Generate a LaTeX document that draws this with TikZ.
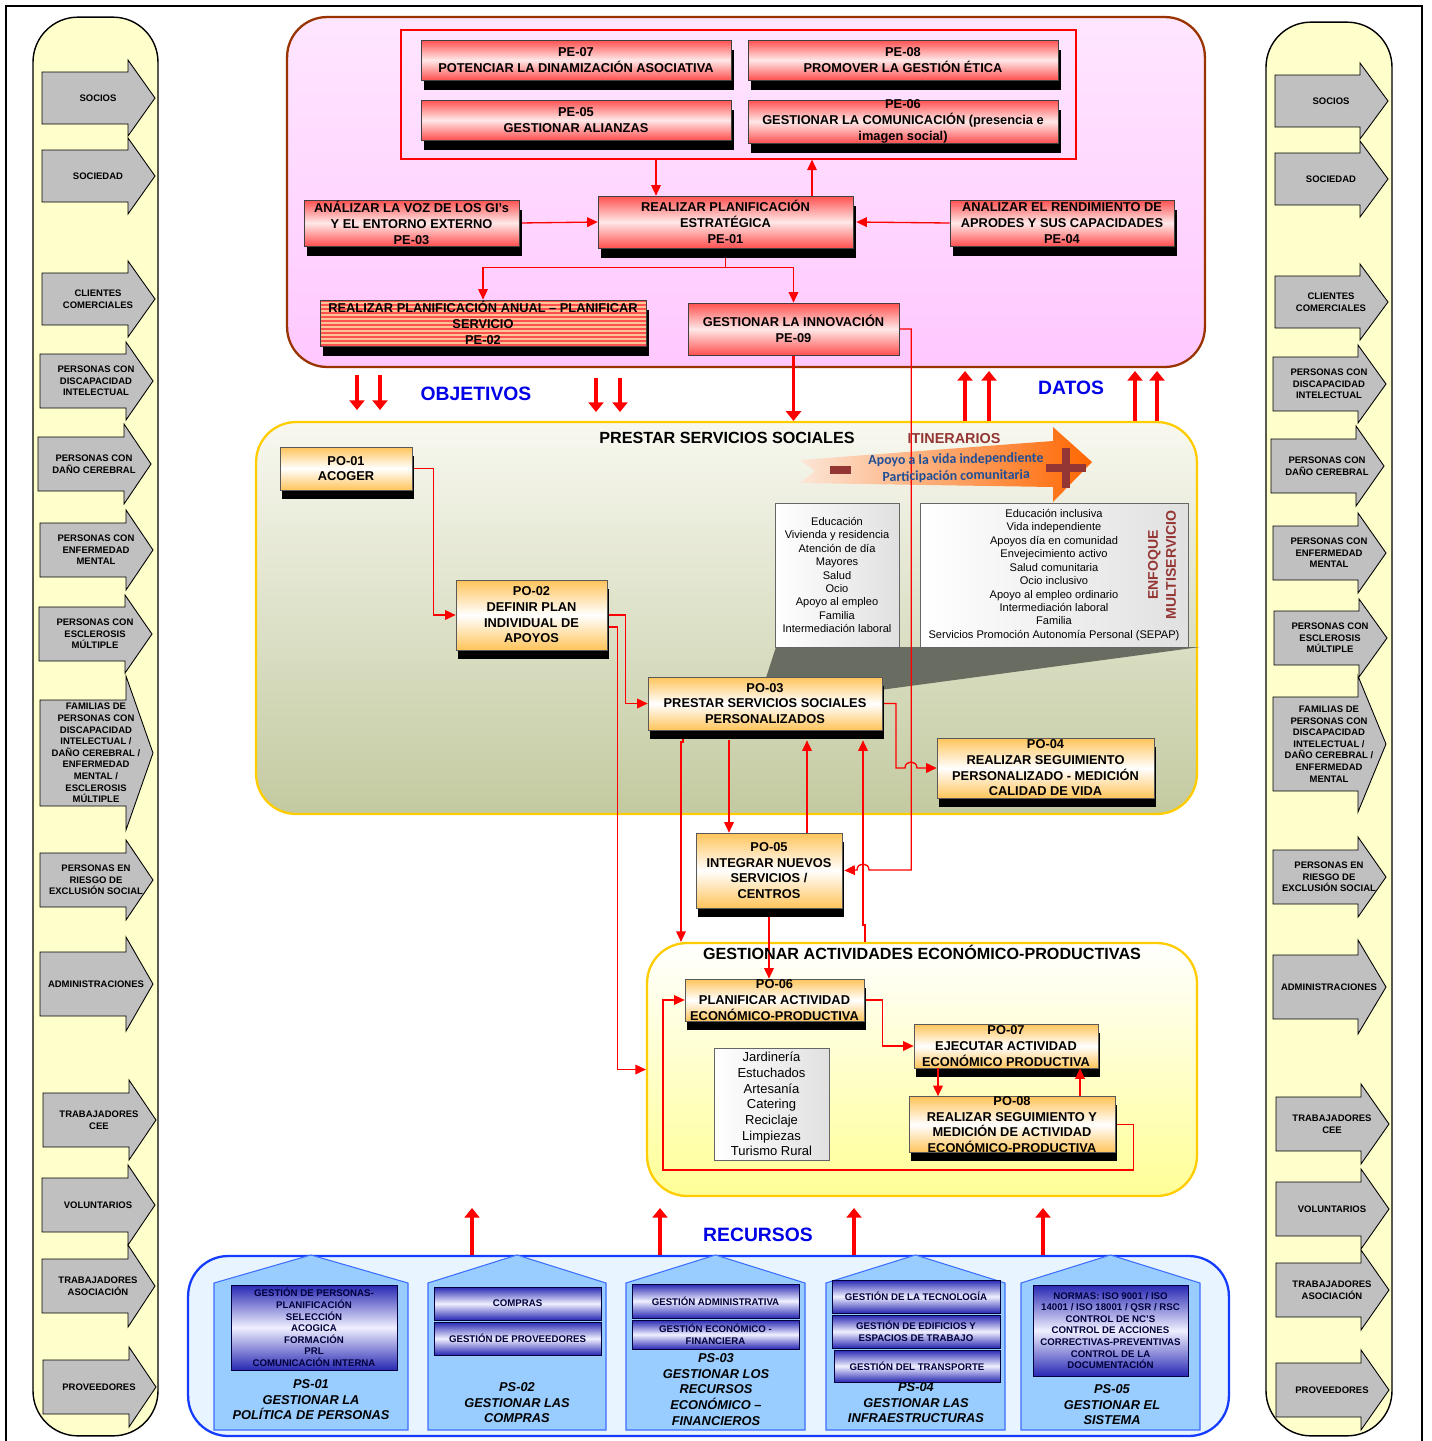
\documentclass[tikz,border=0pt]{standalone}
\usepackage{fontspec}
\setmainfont{Liberation Sans}
\newfontfamily\itinfont{Carlito}
\usepackage{xcolor}
\definecolor{pered}{RGB}{255, 80, 80}
\definecolor{pelight}{RGB}{255, 232, 232}
\definecolor{stripepeach}{RGB}{255, 196, 150}
\definecolor{poorange}{RGB}{255, 196, 90}
\definecolor{panelbrown}{RGB}{153, 51, 0}
\definecolor{pinktop}{RGB}{255, 230, 255}
\definecolor{pinkbottom}{RGB}{255, 200, 255}
\definecolor{gold}{RGB}{255, 204, 0}
\definecolor{olivetop}{RGB}{248, 248, 240}
\definecolor{olivebottom}{RGB}{195, 202, 160}
\definecolor{econbottom}{RGB}{255, 255, 150}
\definecolor{cream}{RGB}{255, 255, 204}
\definecolor{arrowgray}{RGB}{192, 192, 192}
\definecolor{labelblue}{RGB}{0, 0, 230}
\definecolor{supportblue}{RGB}{20, 60, 255}
\definecolor{supportfill}{RGB}{232, 244, 255}
\definecolor{housefill}{RGB}{153, 204, 255}
\definecolor{houseedge}{RGB}{60, 110, 255}
\definecolor{navy}{RGB}{40, 40, 180}
\definecolor{navytext}{RGB}{0, 0, 60}
\definecolor{itinred}{RGB}{148, 54, 52}
\definecolor{itinblue}{RGB}{31, 78, 150}
\definecolor{itinorange}{RGB}{255, 102, 0}
\definecolor{itinpeach}{RGB}{252, 230, 215}
\definecolor{darkshade}{RGB}{105, 108, 96}
\usepackage{tikz}
\usetikzlibrary{arrows.meta, positioning, calc, shadows}
\pgfdeclarelayer{back}
\pgfdeclarelayer{lines}
\pgfsetlayers{back,lines,main}

\tikzset{
    flow/.style={draw=red, line width=0.75pt, -{Triangle[length=6pt, width=5.5pt]}},
    bigflow/.style={draw=red, line width=1.8pt, -{Triangle[length=5.5pt, width=8.5pt]}},
    panel/.style={rounded corners=0.8cm, line width=1.3pt},
    boxfont/.style={inner sep=0pt, align=center, font=\fontsize{7.3}{8.9}\selectfont\bfseries},
    pebox/.style={boxfont, draw=black!75, top color=pered, bottom color=pered, middle color=pelight},
    peshadow/.style={general shadow={fill=black, shadow xshift=1.7pt, shadow yshift=-5.7pt}},
    pobox/.style={boxfont, draw=black!65, top color=poorange, bottom color=poorange, middle color=white,
        general shadow={fill=black, shadow xshift=1.1pt, shadow yshift=-5.1pt}},
    listbox/.style={draw=black!60, left color=white, right color=black!12, inner sep=0pt, align=center,
        font=\fontsize{6.3}{7.65}\selectfont},
    sidearrow/.style={draw=black, line width=0.5pt, fill=arrowgray},
    sidetext/.style={align=center, font=\fontsize{5.4}{6.6}\selectfont\bfseries},
    house/.style={draw=houseedge, fill=housefill, line width=0.6pt},
    supbox/.style={draw=navytext, top color=navy, bottom color=navy, middle color=white!94!blue, inner sep=0pt,
        align=center, text=navytext, font=\fontsize{5.5}{6.6}\selectfont\bfseries},
    suplabel/.style={align=center, font=\fontsize{7.3}{8.85}\selectfont\bfseries\itshape},
    flowlabel/.style={text=labelblue, font=\fontsize{11}{13}\selectfont\bfseries},
    paneltitle/.style={font=\fontsize{9.2}{11}\selectfont\bfseries}
}

\begin{document}
\begin{tikzpicture}[x=0.02cm, y=-0.02cm, >=Stealth]
    \useasboundingbox (0,0) rectangle (1431,1441);
    \draw[line width=1.1pt] (6,6) rectangle (1422,1460);

    \begin{pgfonlayer}{back}
        \node[panel, draw=black, fill=cream, rounded corners=0.9cm, line width=0.8pt, minimum width=2.5cm, minimum height=28.38cm] (grupoizq) at (95.5,726.5) {};
        \node[panel, draw=black, fill=cream, rounded corners=0.9cm, line width=0.8pt, minimum width=2.52cm, minimum height=28.28cm] (grupoder) at (1329,729) {};
        \node[panel, draw=panelbrown, top color=pinktop, bottom color=pinkbottom, minimum width=18.36cm, minimum height=7cm] (plan) at (746,192) {};
        \node[draw=red, line width=0.7pt, minimum width=13.5cm, minimum height=2.58cm] (pegroup) at (738.5,94.5) {};
        \node[panel, draw=gold, top color=olivetop, bottom color=olivebottom, minimum width=18.82cm, minimum height=7.84cm] (social) at (726.5,618) {};
        \node[panel, draw=gold, top color=white, bottom color=econbottom, minimum width=11cm, minimum height=5.06cm] (econ) at (922,1069.5) {};
        \node[panel, draw=supportblue, fill=supportfill, minimum width=20.82cm, minimum height=3.6cm] (soporte) at (708.5,1346) {};
        \fill[darkshade] (762,690) -- (776,647) -- (1200,647) -- (880,690) -- cycle;
        \shade[left color=itinpeach, right color=itinorange] (800,460) -- (1053,441) -- (1053,427) -- (1092,462) -- (1053,502) -- (1053,487) -- (800,483) -- (815,471) -- cycle;
        \fill[itinred] (830,466) rectangle (851,474);
        \fill[itinred] (1046,464) rectangle (1086,472);
        \fill[itinred] (1062,448) rectangle (1070,488);
    \end{pgfonlayer}

    \foreach \y/\b/\h/\d/\txt [count=\i] in {98/26/38/0/SOCIOS, 176/26/38/0/SOCIEDAD, 299/26/38/0/{CLIENTES\\COMERCIALES},
        381/27/39/-2/{PERSONAS CON\\DISCAPACIDAD\\INTELECTUAL}, 464/27/40/-4/{PERSONAS CON\\DAÑO CEREBRAL},
        550/27/40/-2/{PERSONAS CON\\ENFERMEDAD\\MENTAL}, 634/27/39/-3/{PERSONAS CON\\ESCLEROSIS\\MÚLTIPLE},
        753/53/77/-2/{FAMILIAS DE\\PERSONAS CON\\DISCAPACIDAD\\INTELECTUAL /\\DAÑO CEREBRAL /\\ENFERMEDAD\\MENTAL /\\ESCLEROSIS\\MÚLTIPLE},
        880/27/40/-2/{PERSONAS EN\\RIESGO DE\\EXCLUSIÓN SOCIAL}, 984/32/47/-2/ADMINISTRACIONES,
        1120/27/40/1/{TRABAJADORES\\CEE}, 1205/27/40/0/VOLUNTARIOS, 1286/27/41/0/{TRABAJADORES\\ASOCIACIÓN},
        1387/27/40/1/PROVEEDORES} {
        \filldraw[sidearrow] ({42+\d},{\y-\b}) -- ({128+\d},{\y-\b}) -- ({128+\d},{\y-\h}) -- ({155+\d},\y)
            -- ({128+\d},{\y+\h}) -- ({128+\d},{\y+\b}) -- ({42+\d},{\y+\b}) -- cycle;
        \node[sidetext] (izq\i) at ({98+\d},\y) {\txt};
    }
    \foreach \y/\b/\h/\d/\txt [count=\i] in {101/26/38/0/SOCIOS, 179/26/38/0/SOCIEDAD, 302/26/38/0/{CLIENTES\\COMERCIALES},
        384/27/39/-2/{PERSONAS CON\\DISCAPACIDAD\\INTELECTUAL}, 466/27/40/-4/{PERSONAS CON\\DAÑO CEREBRAL},
        553/27/40/-2/{PERSONAS CON\\ENFERMEDAD\\MENTAL}, 638/27/39/-1/{PERSONAS CON\\ESCLEROSIS\\MÚLTIPLE},
        744/47/68/-2/{FAMILIAS DE\\PERSONAS CON\\DISCAPACIDAD\\INTELECTUAL /\\DAÑO CEREBRAL /\\ENFERMEDAD\\MENTAL},
        877/27/40/-2/{PERSONAS EN\\RIESGO DE\\EXCLUSIÓN SOCIAL}, 987/32/47/-2/ADMINISTRACIONES,
        1124/27/40/1/{TRABAJADORES\\CEE}, 1209/27/40/1/VOLUNTARIOS, 1290/27/40/1/{TRABAJADORES\\ASOCIACIÓN},
        1390/27/40/1/PROVEEDORES} {
        \filldraw[sidearrow] ({1275+\d},{\y-\b}) -- ({1360+\d},{\y-\b}) -- ({1360+\d},{\y-\h}) -- ({1388+\d},\y)
            -- ({1360+\d},{\y+\h}) -- ({1360+\d},{\y+\b}) -- ({1275+\d},{\y+\b}) -- cycle;
        \node[sidetext] (der\i) at ({1331+\d},\y) {\txt};
    }

    \node[pebox, peshadow, minimum width=6.2cm, minimum height=0.8cm] (pe07) at (576,60) {PE-07\\POTENCIAR LA DINAMIZACIÓN ASOCIATIVA};
    \node[pebox, peshadow, minimum width=6.2cm, minimum height=0.8cm] (pe08) at (903,60) {PE-08\\PROMOVER LA GESTIÓN ÉTICA};
    \node[pebox, peshadow, minimum width=6.2cm, minimum height=0.8cm] (pe05) at (576,120) {PE-05\\GESTIONAR ALIANZAS};
    \node[pebox, peshadow, minimum width=6.2cm, minimum height=0.86cm] (pe06) at (903,121.5) {PE-06\\GESTIONAR LA COMUNICACIÓN (presencia e\\imagen social)};
    \node[pebox, peshadow, minimum width=4.3cm, minimum height=0.92cm] (pe03) at (411.5,223) {ANÁLIZAR LA VOZ DE LOS GI's\\Y EL ENTORNO EXTERNO\\PE-03};
    \node[pebox, peshadow, minimum width=5.1cm, minimum height=1.04cm] (pe01) at (725.5,222) {REALIZAR PLANIFICACIÓN\\ESTRATÉGICA\\PE-01};
    \node[pebox, peshadow, minimum width=4.48cm, minimum height=0.92cm] (pe04) at (1062,223) {ANALIZAR EL RENDIMIENTO DE\\APRODES Y SUS CAPACIDADES\\PE-04};
    \node[boxfont, peshadow, draw=black!75, fill=stripepeach, minimum width=6.52cm, minimum height=0.92cm,
        path picture={\foreach \k in {0,...,11}
            \fill[pered] ($(path picture bounding box.north west)+(0,4*\k)$) rectangle ($(path picture bounding box.north east)+(0,4*\k+2)$);}]
        (pe02) at (483,323) {REALIZAR PLANIFICACIÓN ANUAL – PLANIFICAR\\SERVICIO\\PE-02};
    \node[pebox, minimum width=4.22cm, minimum height=1.04cm] (pe09) at (793.5,329) {GESTIONAR LA INNOVACIÓN\\PE-09};

    \node[paneltitle] (tsocial) at (727,438) {PRESTAR SERVICIOS SOCIALES};
    \node[text=itinred, inner sep=0pt, font=\fontsize{8.2}{10}\selectfont\bfseries] (itin) at (954,439) {ITINERARIOS};
    \node[rotate=1, text=itinblue, align=center, inner sep=0pt, font=\itinfont\fontsize{7.9}{9.5}\selectfont\bfseries] (apoyo) at (956,468) {Apoyo a la vida independiente\\Participación comunitaria};

    \node[listbox, minimum width=2.48cm, minimum height=2.88cm] (servicios) at (837,575) {Educación\\Vivienda y residencia\\Atención de día\\Mayores\\Salud\\Ocio\\Apoyo al empleo\\Familia\\Intermediación laboral};
    \node[listbox, minimum width=5.36cm, minimum height=2.88cm] (multi) at (1054,575) {Educación inclusiva\\Vida independiente\\Apoyos día en comunidad\\Envejecimiento activo\\Salud comunitaria\\Ocio inclusivo\\Apoyo al empleo ordinario\\Intermediación laboral\\Familia\\Servicios Promoción Autonomía Personal (SEPAP)};
    \node[rotate=90, align=center, text=itinred, font=\fontsize{8}{10.2}\selectfont\bfseries] (enfoque) at (1162,565) {ENFOQUE\\MULTISERVICIO};

    \node[pobox, minimum width=2.64cm, minimum height=0.86cm] (po01) at (346,468.5) {PO-01\\ACOGER};
    \node[pobox, minimum width=3.02cm, minimum height=1.4cm] (po02) at (531.5,615) {PO-02\\DEFINIR PLAN\\INDIVIDUAL DE\\APOYOS};
    \node[pobox, minimum width=4.68cm, minimum height=1.06cm] (po03) at (765,703.5) {PO-03\\PRESTAR SERVICIOS SOCIALES\\PERSONALIZADOS};
    \coordinate (po03s) at ($(po03.south)+(0,10)$);
    \node[pobox, minimum width=4.34cm, minimum height=1.2cm] (po04) at (1045.5,768) {PO-04\\REALIZAR SEGUIMIENTO\\PERSONALIZADO - MEDICIÓN\\CALIDAD DE VIDA};
    \node[pobox, minimum width=2.92cm, minimum height=1.5cm] (po05) at (769,870.5) {PO-05\\INTEGRAR NUEVOS\\SERVICIOS /\\CENTROS};

    \node[paneltitle] (tecon) at (922,952) {GESTIONAR ACTIVIDADES ECONÓMICO-PRODUCTIVAS};
    \node[pobox, minimum width=3.58cm, minimum height=0.84cm] (po06) at (774.5,1000) {PO-06\\PLANIFICAR ACTIVIDAD\\ECONÓMICO-PRODUCTIVA};
    \node[pobox, minimum width=3.68cm, minimum height=0.88cm] (po07) at (1006,1046) {PO-07\\EJECUTAR ACTIVIDAD\\ECONÓMICO PRODUCTIVA};
    \node[pobox, minimum width=4.12cm, minimum height=1.1cm] (po08) at (1012,1124.5) {PO-08\\REALIZAR SEGUIMIENTO Y\\MEDICIÓN DE ACTIVIDAD\\ECONÓMICO-PRODUCTIVA};
    \node[listbox, font=\fontsize{7.4}{8.9}\selectfont, minimum width=2.3cm, minimum height=2.24cm] (talleres) at (771.5,1104) {Jardinería\\Estuchados\\Artesanía\\Catering\\Reciclaje\\Limpiezas\\Turismo Rural};

    \begin{pgfonlayer}{lines}
        \draw[flow] (pegroup.south -| 656,0) -- (pe01.north -| 656,0);
        \draw[flow] (pe01.north -| 812,0) -- (pegroup.south -| 812,0);
        \draw[flow] (pe03.east) -- (pe01.west);
        \draw[flow] (pe04.west) -- ($(pe01.east)+(3,0)$);
        \draw[flow] (pe01.south) -- ++(0,19) -| (pe02.north);
        \draw[flow] (pe01.south) -- ++(0,19) -| (pe09.north);
        \draw[bigflow, line width=2.2pt] (pe09.south) -- (pe09.south |- social.north);
        \draw[flow] (pe09.east) -- ++(12,0) |- (869,870) .. controls (869,862) and (857,862) .. (857,870) -- ($(po05.east)+(2,0)$);
        \draw[flow] (po01.east) -- ++(21,0) |- (po02.west);
        \draw[flow] (po02.east) -- ++(18,0) |- (po03.west);
        \draw[flow] ($(po02.east)+(0,12)$) -- ++(10,0) |- (econ.west);
        \draw[flow] (po03.south -| 683,0) -- (683,742) -- (681,742) -- (econ.north -| 681,0);
        \draw[flow] (po03s -| 729,0) -- (po05.north -| 729,0);
        \draw[flow] (po05.north -| 807,0) -- (po03s -| 807,0);
        \draw[flow] (econ.north -| 865,0) -- (865,925) -- (863,925) -- (po03s -| 863,0);
        \draw[flow] (po03.east) -| (896,768) -- (905,768) .. controls (905,760) and (917,760) .. (917,768) -- (po04.west);
        \draw[flow] (po05.south) -- (po05.south |- po06.north);
        \draw[flow] (po06.east) -- ++(18,0) |- (po07.west);
        \draw[flow] (po08.east) -- ++(18,0) |- (663,1170) |- (po06.west);
    \end{pgfonlayer}
    \draw[flow] (po07.south -| 938,0) -- (po08.north -| 938,0);
    \draw[flow] (po08.north -| 1080,0) -- (po07.south -| 1080,0);

    \node[flowlabel] (objetivos) at (476,394) {OBJETIVOS};
    \node[flowlabel] (datos) at (1071,388) {DATOS};
    \node[flowlabel] (recursos) at (758,1235) {RECURSOS};
    \foreach \x/\a/\b in {357/375/410, 380/375/410, 596/378/412, 620/378/412}
        \draw[bigflow] (\x,\a) -- (\x,\b);
    \foreach \x in {965,989,1135,1157}
        \draw[bigflow] (social.north -| \x,0) -- (\x,371);
    \foreach \x in {472,660,854,1043}
        \draw[bigflow] (soporte.north -| \x,0) -- (\x,1208);

    \foreach \l/\r in {214/408, 428/606, 626/805, 826/1005, 1021/1200}
        \filldraw[house] (\l,1430) -- (\l,1283) -- ({(\l+\r)/2},1255) -- (\r,1283) -- (\r,1430) -- cycle;
    \node[supbox, minimum width=3.32cm, minimum height=1.7cm] (ps01a) at (314,1327.5) {GESTIÓN DE PERSONAS-\\PLANIFICACIÓN\\SELECCIÓN\\ACOGICA\\FORMACIÓN\\PRL\\COMUNICACIÓN INTERNA};
    \node[supbox, minimum width=3.34cm, minimum height=0.66cm] (ps02a) at (517.5,1303.5) {COMPRAS};
    \node[supbox, minimum width=3.34cm, minimum height=0.66cm] (ps02b) at (517.5,1338.5) {GESTIÓN DE PROVEEDORES};
    \node[supbox, minimum width=3.34cm, minimum height=0.68cm] (ps03a) at (715.5,1301) {GESTIÓN ADMINISTRATIVA};
    \node[supbox, minimum width=3.34cm, minimum height=0.58cm] (ps03b) at (715.5,1334.5) {GESTIÓN ECONÓMICO -\\FINANCIERA};
    \node[supbox, minimum width=3.36cm, minimum height=0.66cm] (ps04a) at (916,1296.5) {GESTIÓN DE LA TECNOLOGÍA};
    \node[supbox, minimum width=3.36cm, minimum height=0.66cm] (ps04b) at (916,1331.5) {GESTIÓN DE EDIFICIOS Y\\ESPACIOS DE TRABAJO};
    \node[supbox, minimum width=3.32cm, minimum height=0.64cm] (ps04c) at (917,1366) {GESTIÓN DEL TRANSPORTE};
    \node[supbox, minimum width=3.1cm, minimum height=1.82cm] (ps05a) at (1110.5,1330.5) {NORMAS: ISO 9001 / ISO\\14001 / ISO 18001 / QSR / RSC\\CONTROL DE NC'S\\CONTROL DE ACCIONES\\CORRECTIVAS-PREVENTIVAS\\CONTROL DE LA\\DOCUMENTACIÓN};
    \node[suplabel] (ps01) at (311,1400) {PS-01\\GESTIONAR LA\\POLÍTICA DE PERSONAS};
    \node[suplabel] (ps02) at (517,1403) {PS-02\\GESTIONAR LAS\\COMPRAS};
    \node[suplabel] (ps03) at (716,1389.5) {PS-03\\GESTIONAR LOS\\RECURSOS\\ECONÓMICO –\\FINANCIEROS};
    \node[suplabel] (ps04) at (916,1403) {PS-04\\GESTIONAR LAS\\INFRAESTRUCTURAS};
    \node[suplabel] (ps05) at (1112,1405) {PS-05\\GESTIONAR EL\\SISTEMA};
\end{tikzpicture}
\end{document}
